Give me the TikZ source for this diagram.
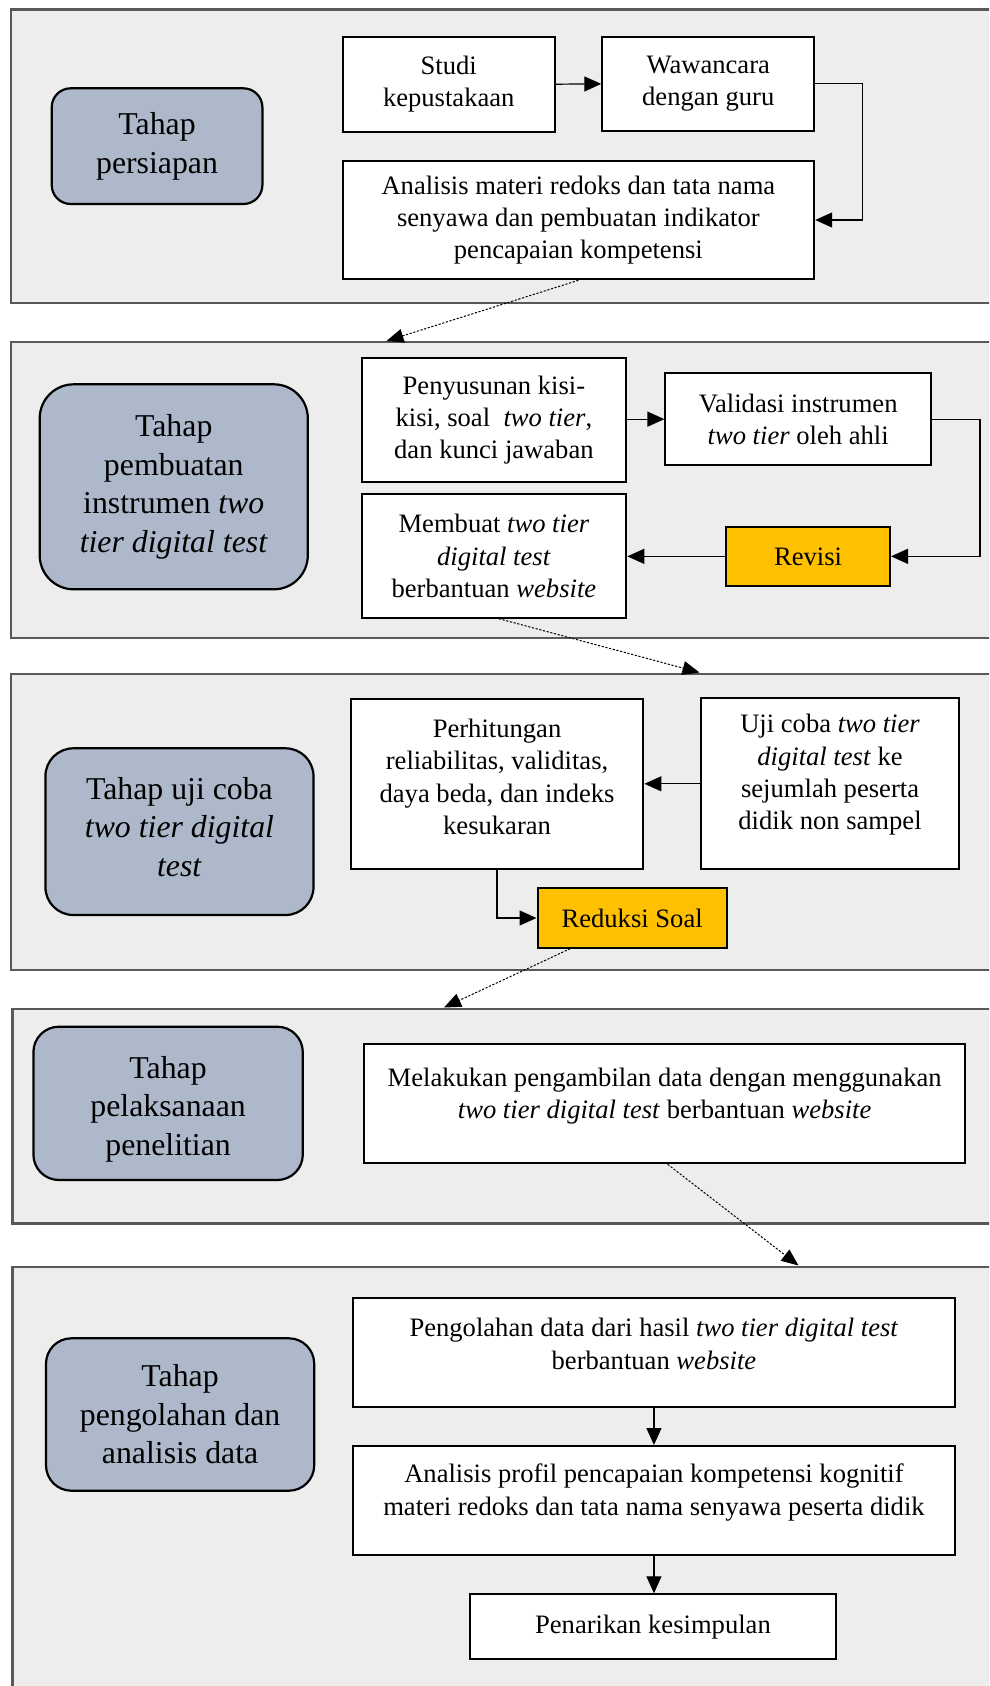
\documentclass[tikz,border=0pt]{standalone}
\usepackage{fontspec}
\setmainfont{Liberation Serif}
\usetikzlibrary{arrows.meta}
\definecolor{panelfill}{HTML}{EDEDED}
\definecolor{panelline}{HTML}{595959}
\definecolor{tahapfill}{HTML}{ADB9CA}
\definecolor{gold}{HTML}{FFC000}
\newcommand{\boxfont}{\fontsize{26.6}{32.3}\selectfont}
\newcommand{\tahapfont}{\fontsize{31.8}{38.5}\selectfont}
\tikzset{
 panel/.style={draw=panelline, fill=panelfill, line width=2.4pt, anchor=north west, inner sep=0pt, minimum width=1000pt},
 tahap/.style={draw=black, fill=tahapfill, line width=2.2pt, align=center, inner sep=0pt, font=\tahapfont},
 box/.style={draw=black, fill=white, line width=2pt, align=center, inner sep=0pt, font=\boxfont},
 hl/.style={box, fill=gold},
 txt/.style={align=center, inner sep=0pt, font=\boxfont},
 ttxt/.style={align=center, inner sep=0pt, font=\tahapfont},
 conn/.style={line width=1.2pt, -{Triangle[length=17pt,width=15pt]}},
 dconn/.style={line width=1pt, dash pattern=on 2.2pt off 1.6pt, -{Triangle[length=17pt,width=14pt]}},
}
\begin{document}
\begin{tikzpicture}[x=1pt,y=-1pt]
\useasboundingbox (0,0) rectangle (989,1686);
\clip (0,0) rectangle (989,1686);
% panels
\node[panel, minimum height=293.4pt] (p1) at (9.5,8.3) {};
\node[panel, minimum height=296pt] (p2) at (9.5,340.7) {};
\node[panel, minimum height=296.3pt] (p3) at (9.5,672.7) {};
\node[panel, minimum height=214.6pt] (p4) at (11.4,1007.7) {};
\node[panel, minimum height=460pt] (p5) at (11.4,1265.7) {};
% tahap boxes
\node[tahap, rounded corners=19pt, minimum width=210.7pt, minimum height=115.7pt] (t1) at (157.05,146.15) {Tahap\\persiapan};
\node[tahap, rounded corners=34pt, minimum width=268.1pt, minimum height=205pt] (t2) at (173.75,486.8) {Tahap\\pembuatan\\instrumen \textit{two}\\\textit{tier digital test}};
\node[tahap, rounded corners=28pt, minimum width=268.1pt, minimum height=166.7pt] (t3) at (179.45,831.65) {};
\node[ttxt] (t3l) at (179.45,827) {Tahap uji coba\\\textit{two tier digital}\\\textit{test}};
\node[tahap, rounded corners=25.5pt, minimum width=269.4pt, minimum height=153.3pt] (t4) at (168.1,1103.35) {};
\node[ttxt] (t4l) at (168.1,1109) {Tahap\\pelaksanaan\\penelitian};
\node[tahap, rounded corners=25.4pt, minimum width=268.2pt, minimum height=152.4pt] (t5) at (180.1,1414.5) {Tahap\\pengolahan dan\\analisis data};
% panel 1
\node[box, minimum width=212.5pt, minimum height=95pt] (studi) at (448.75,84.2) {Studi\\kepustakaan};
\node[box, minimum width=211.9pt, minimum height=94.3pt] (waw) at (708.25,83.85) {Wawancara\\dengan guru};
\node[box, minimum width=471.7pt, minimum height=118.6pt] (ana) at (578.35,220) {Analisis materi redoks dan tata nama\\senyawa dan pembuatan indikator\\pencapaian kompetensi};
% panel 2
\node[box, minimum width=264.8pt, minimum height=123.4pt] (pen) at (493.9,420) {Penyusunan kisi-\\kisi, soal \ \textit{two tier},\\dan kunci jawaban};
\node[box, minimum width=265.6pt, minimum height=91.7pt] (val) at (798.2,419.15) {Validasi instrumen\\\textit{two tier} oleh ahli};
\node[hl, minimum width=164pt, minimum height=59.3pt] (rev) at (808,556.35) {Revisi};
\node[box, minimum width=264.8pt, minimum height=123.4pt] (mem) at (493.9,556) {Membuat \textit{two tier}\\\textit{digital test}\\berbantuan \textit{website}};
% panel 3
\node[box, minimum width=292.7pt, minimum height=170pt] (per) at (497.05,784.3) {};
\node[txt] (perl) at (497.05,777) {Perhitungan\\reliabilitas, validitas,\\daya beda, dan indeks\\kesukaran};
\node[box, minimum width=257.3pt, minimum height=171pt] (uji) at (830.05,783.8) {};
\node[txt] (ujil) at (830.05,775) {Uji coba \textit{two tier}\\\textit{digital test} ke\\sejumlah peserta\\didik non sampel};
\node[hl, minimum width=189.3pt, minimum height=59.4pt] (red) at (632.15,918) {Reduksi Soal};
% panel 4
\node[box, minimum width=601.3pt, minimum height=119pt] (mel) at (664.65,1103.8) {};
\node[txt] (mell) at (664.65,1096) {Melakukan pengambilan data dengan menggunakan\\\textit{two tier digital test} berbantuan \textit{website}};
% panel 5
\node[box, minimum width=601.3pt, minimum height=108.4pt] (pgl) at (653.95,1352.5) {};
\node[txt] (pgll) at (653.95,1344) {Pengolahan data dari hasil \textit{two tier digital test}\\berbantuan \textit{website}};
\node[box, minimum width=601.3pt, minimum height=109pt] (apr) at (653.95,1500.5) {};
\node[txt] (aprl) at (653.95,1492.5) {Analisis profil pencapaian kompetensi kognitif\\materi redoks dan tata nama senyawa peserta didik};
\node[box, minimum width=365.9pt, minimum height=65pt] (pnk) at (652.95,1626.8) {Penarikan kesimpulan};
% connectors
\draw[conn] (studi.east) -- (waw.west);
\draw[conn] (waw.east) -- ++(47,0) |- (ana.east);
\draw[conn] (pen.east |- val.west) -- (val.west);
\draw[conn] (val.east) -- ++(48,0) |- (rev.east);
\draw[conn] (rev.west) -- (rev.west -| mem.east);
\draw[conn] (uji.west) -- (uji.west -| per.east);
\draw[conn] (per.south) |- (red.west);
\draw[conn] (pgl.south) -- (apr.north);
\draw[conn] (apr.south) -- (apr.south |- pnk.north);
% dashed connectors between stages
\coordinate (e2) at (386.5,341);
\coordinate (e3) at (699.5,672.5);
\coordinate (e4) at (444,1007.5);
\coordinate (e5) at (798.5,1265.5);
\draw[dconn] (ana.south) -- (e2);
\draw[dconn] ([xshift=5pt]mem.south) -- (e3);
\draw[dconn] ([xshift=-62pt]red.south) -- (e4);
\draw[dconn] ([xshift=3pt]mel.south) -- (e5);
\end{tikzpicture}
\end{document}
